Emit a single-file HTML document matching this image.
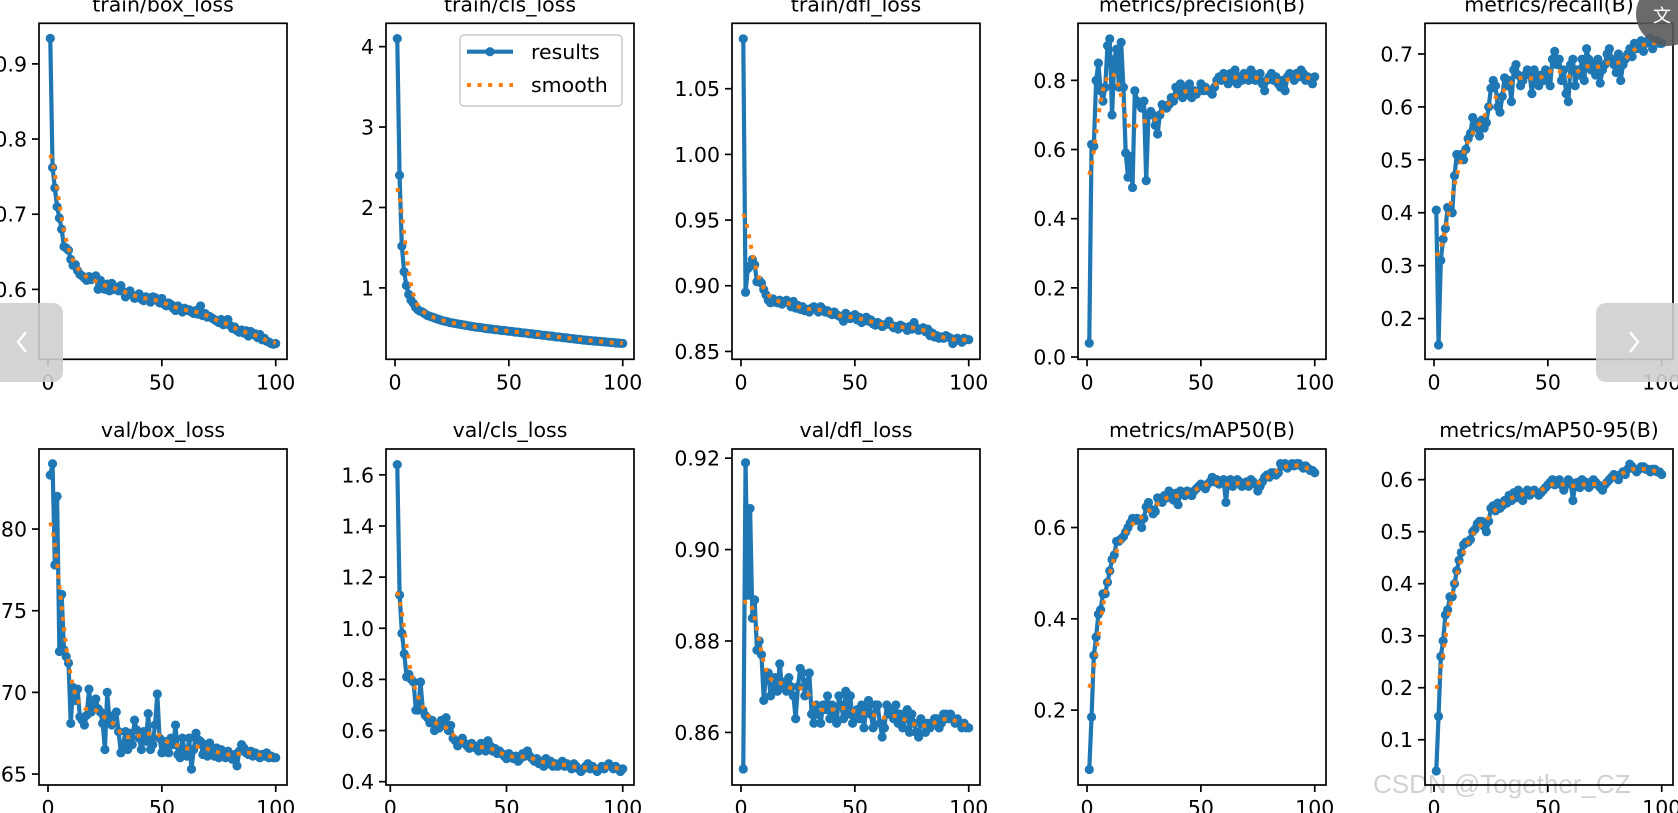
<!DOCTYPE html>
<html><head><meta charset="utf-8">
<style>
html,body{margin:0;padding:0;background:#fff;overflow:hidden;}
svg{display:block;font-family:"DejaVu Sans","Liberation Sans",sans-serif;}
</style></head>
<body>
<svg id="chart" width="1678" height="813" viewBox="0 0 1678 813" xmlns="http://www.w3.org/2000/svg"></svg>
<script>
// ---------- data ----------
const trainBox = [.934,.762,.735,.710,.695,.680,.657,.655,.652,.640,
.632,.633,.625,.620,.618,.615,.612,.617,.613,.615,
.618,.600,.612,.605,.600,.607,.598,.608,.600,.603,
.598,.605,.597,.590,.595,.598,.592,.588,.590,.594,
.587,.585,.590,.588,.583,.590,.589,.585,.582,.588,
.580,.578,.582,.580,.575,.572,.578,.574,.570,.575,
.572,.573,.570,.568,.572,.567,.578,.565,.568,.563,
.564,.562,.560,.558,.556,.560,.553,.554,.560,.552,
.548,.550,.545,.543,.546,.542,.545,.538,.544,.540,
.541,.536,.540,.533,.535,.531,.530,.528,.527,.528];
const trainCls = [4.10,2.40,1.52,1.20,1.03,.92,.85,.81,.76,.73,
.71,.70,.68,.66,.65,.64,.63,.62,.61,.60,
.59,.585,.58,.57,.565,.56,.555,.55,.545,.54,
.535,.53,.525,.52,.515,.51,.51,.505,.50,.495,
.49,.49,.485,.48,.48,.475,.47,.47,.465,.46,
.46,.455,.45,.45,.445,.44,.44,.435,.43,.43,
.425,.42,.42,.415,.41,.41,.405,.40,.40,.395,
.39,.39,.385,.38,.38,.375,.37,.37,.365,.36,
.36,.355,.35,.35,.345,.345,.34,.34,.335,.335,
.33,.33,.325,.325,.32,.32,.315,.315,.31,.31];
const trainDfl = [1.088,.895,.913,.915,.920,.916,.903,.904,.902,.897,
.893,.889,.887,.890,.888,.887,.889,.886,.888,.889,
.887,.884,.888,.883,.885,.882,.884,.881,.882,.880,
.883,.884,.882,.880,.884,.882,.880,.881,.879,.878,
.880,.878,.877,.876,.873,.879,.877,.875,.877,.878,
.874,.876,.872,.875,.876,.873,.874,.871,.870,.872,
.871,.869,.870,.871,.873,.870,.868,.869,.867,.870,
.869,.868,.866,.869,.867,.872,.868,.866,.867,.868,
.865,.867,.862,.864,.861,.862,.860,.861,.860,.862,
.861,.860,.856,.858,.860,.859,.857,.860,.859,.859];
const precision = [.04,.615,.61,.80,.85,.77,.74,.78,.90,.92,
.70,.86,.89,.78,.91,.78,.59,.52,.58,.49,
.77,.74,.73,.72,.74,.51,.70,.71,.70,.67,
.645,.70,.73,.72,.72,.73,.75,.74,.78,.76,
.79,.75,.78,.76,.79,.75,.77,.76,.77,.79,
.77,.78,.77,.77,.76,.78,.80,.81,.80,.82,
.81,.79,.82,.80,.83,.79,.81,.80,.82,.81,
.80,.83,.82,.80,.81,.82,.79,.77,.80,.81,
.82,.80,.81,.79,.78,.80,.77,.81,.82,.81,
.80,.82,.81,.83,.82,.80,.81,.80,.79,.81];
const recall = [.405,.15,.31,.35,.37,.41,.41,.40,.47,.51,
.50,.51,.50,.52,.54,.55,.58,.56,.57,.545,
.575,.56,.57,.60,.635,.65,.64,.60,.59,.62,
.655,.64,.65,.61,.67,.68,.66,.64,.65,.66,
.67,.66,.625,.67,.65,.64,.66,.65,.67,.655,
.64,.69,.705,.68,.69,.65,.67,.625,.61,.68,
.69,.64,.67,.66,.69,.65,.71,.69,.67,.68,
.66,.69,.645,.67,.68,.70,.71,.69,.68,.665,
.70,.65,.68,.69,.70,.71,.695,.72,.71,.72,
.725,.705,.72,.725,.73,.71,.72,.725,.72,.72];
const valBox = [.833,.840,.778,.820,.725,.760,.726,.722,.718,.681,
.703,.695,.702,.685,.683,.680,.686,.702,.688,.693,
.696,.690,.688,.681,.665,.700,.683,.680,.686,.688,
.676,.663,.668,.676,.665,.675,.668,.683,.677,.672,
.665,.676,.670,.687,.665,.668,.680,.699,.672,.663,
.670,.666,.663,.672,.668,.680,.662,.660,.672,.665,
.661,.672,.653,.665,.675,.671,.670,.662,.668,.661,
.669,.664,.661,.666,.660,.665,.663,.660,.664,.662,
.659,.662,.655,.664,.668,.666,.663,.662,.664,.661,
.663,.662,.660,.662,.661,.663,.660,.661,.660,.660];
const valCls = [1.64,1.13,.98,.90,.81,.82,.80,.79,.68,.68,
.79,.68,.66,.65,.63,.64,.60,.62,.61,.64,
.62,.65,.60,.62,.57,.56,.54,.55,.57,.55,
.54,.53,.55,.54,.53,.52,.55,.53,.52,.56,
.54,.52,.53,.51,.52,.51,.50,.49,.51,.50,
.49,.50,.48,.49,.51,.50,.52,.50,.49,.48,
.49,.47,.48,.46,.49,.47,.48,.46,.47,.46,
.47,.48,.46,.47,.46,.45,.47,.46,.45,.44,
.45,.46,.47,.45,.46,.45,.44,.45,.46,.45,
.46,.47,.46,.45,.46,.45,.44,.45];
const valDfl = [.852,.919,.890,.909,.885,.889,.878,.880,.877,.867,
.873,.873,.868,.870,.872,.869,.875,.870,.871,.869,
.872,.870,.868,.863,.870,.874,.873,.868,.871,.873,
.864,.862,.866,.864,.862,.866,.865,.868,.863,.866,
.864,.862,.868,.866,.863,.869,.864,.868,.862,.864,
.865,.863,.866,.861,.865,.867,.864,.861,.866,.866,
.862,.859,.861,.866,.864,.865,.863,.866,.862,.864,
.861,.863,.865,.860,.864,.862,.860,.859,.863,.862,
.860,.862,.861,.862,.863,.863,.861,.862,.864,.864,
.863,.864,.863,.862,.863,.862,.861,.862,.861,.861];
const map50 = [.07,.185,.32,.36,.41,.42,.455,.455,.48,.505,
.53,.54,.57,.57,.575,.58,.59,.60,.61,.62,
.615,.62,.615,.60,.62,.645,.655,.64,.63,.635,
.665,.66,.655,.67,.665,.68,.67,.66,.675,.65,
.68,.675,.67,.68,.675,.67,.68,.685,.69,.695,
.69,.685,.695,.70,.71,.70,.705,.695,.70,.705,
.655,.70,.705,.69,.70,.705,.70,.69,.695,.70,
.69,.705,.70,.695,.68,.69,.70,.71,.715,.71,
.72,.72,.715,.72,.74,.735,.74,.73,.735,.74,
.735,.74,.74,.735,.73,.735,.73,.725,.725,.72];
const map5095 = [.04,.145,.26,.29,.34,.35,.375,.375,.40,.425,
.445,.46,.475,.48,.48,.485,.50,.505,.515,.52,
.52,.51,.50,.52,.545,.55,.54,.555,.545,.55,
.56,.555,.57,.56,.575,.565,.58,.57,.56,.575,
.58,.57,.575,.58,.575,.57,.575,.58,.585,.59,
.595,.60,.59,.595,.60,.59,.58,.59,.60,.595,
.56,.59,.595,.585,.60,.59,.595,.585,.59,.60,
.595,.59,.585,.58,.59,.595,.60,.605,.61,.605,
.60,.61,.615,.61,.62,.63,.625,.62,.615,.62,
.625,.625,.62,.62,.615,.62,.62,.615,.615,.61];
const xTicks = [0, 50, 100];
const titles = ["train/box_loss","train/cls_loss","train/dfl_loss","metrics/precision(B)","metrics/recall(B)",
"val/box_loss","val/cls_loss","val/dfl_loss","metrics/mAP50(B)","metrics/mAP50-95(B)"];
const seriesList = [trainBox,trainCls,trainDfl,precision,recall,valBox,valCls,valDfl,map50,map5095];
const startEpochs = [1,1,1,1,1,1,3,1,1,1];
const yTickSets = [[0.6,0.7,0.8,0.9],[1,2,3,4],[0.85,0.90,0.95,1.00,1.05],[0,0.2,0.4,0.6,0.8],[0.2,0.3,0.4,0.5,0.6,0.7],
[0.65,0.70,0.75,0.80],[0.4,0.6,0.8,1.0,1.2,1.4,1.6],[0.86,0.88,0.90,0.92],[0.2,0.4,0.6],[0.1,0.2,0.3,0.4,0.5,0.6]];
const yDecimals = [1,0,2,1,1,2,1,2,1,1];
const yLims = [[.507,.954],[.112,4.29],[.844,1.0998],[-.0066,.965],[.123,.758],
[.6433,.849],[.387,1.701],[.8485,.922],[.036,.772],[.013,.659]];

// ---------- layout ----------
const NS = "http://www.w3.org/2000/svg";
const svg = document.getElementById('chart');
const colLeft = [39,386,732,1078,1425];
const rowTop = [23.3,449];
const AW = 248, AH = 336;
const BLUE = "#1f77b4", ORANGE = "#ff7f0e";

function mk(tag, attrs, parent){
  const e = document.createElementNS(NS, tag);
  for (const k in attrs) e.setAttribute(k, attrs[k]);
  (parent||svg).appendChild(e);
  return e;
}
function gaussSmooth(y, sigma){
  const r = Math.round(4*sigma), w = [];
  let s = 0;
  for (let i=-r;i<=r;i++){ const v=Math.exp(-0.5*i*i/(sigma*sigma)); w.push(v); s+=v; }
  const n = y.length, out = [];
  for (let i=0;i<n;i++){
    let acc=0;
    for (let k=-r;k<=r;k++){
      let j=i+k;
      while (j<0||j>=n){ if(j<0) j=-j-1; if(j>=n) j=2*n-j-1; }
      acc += w[k+r]*y[j];
    }
    out.push(acc/s);
  }
  return out;
}

for (let p=0;p<10;p++){
  const L = colLeft[p%5], T = rowTop[Math.floor(p/5)];
  const data = seriesList[p], s0 = startEpochs[p];
  const xEnd = s0 + data.length - 1;
  const m = (xEnd - s0)*0.05;
  const x0 = s0 - m, x1 = xEnd + m;
  const [y0,y1] = yLims[p];
  const xs = v => L + (v - x0)/(x1 - x0)*AW;
  const ys = v => T + AH - (v - y0)/(y1 - y0)*AH;

  const g = mk('g', {});
  
  

  const title = mk('text', {x: L+AW/2, y: T-12, 'font-size': 20.5, 'text-anchor':'middle', fill:'#000'}, g);
  title.textContent = titles[p];
  
  

  // clip
  const cid = 'clip'+p;
  const cp = mk('clipPath', {id: cid}, g);
  mk('rect', {x:L, y:T, width:AW, height:AH}, cp);

  // series
  const pts = data.map((v,i)=> xs(s0+i).toFixed(2)+','+ys(v).toFixed(2)).join(' ');
  const line = mk('polyline', {points: pts, fill:'none', stroke:BLUE, 'stroke-width':4.2, 'stroke-linejoin':'round', 'clip-path':`url(#${cid})`}, g);
  
  
  data.forEach((v,i)=>{
    const c = mk('circle', {cx: xs(s0+i), cy: ys(v), r: 4.6, fill: BLUE, 'clip-path':`url(#${cid})`}, g);
    
    
  });
  const sm = gaussSmooth(data, 3);
  const spts = sm.map((v,i)=> xs(s0+i).toFixed(2)+','+ys(v).toFixed(2)).join(' ');
  const sl = mk('polyline', {points: spts, fill:'none', stroke:ORANGE, 'stroke-width':4, 'stroke-dasharray':'4 6.6', 'clip-path':`url(#${cid})`}, g);
  
  

  // frame
  const fr = mk('rect', {x:L, y:T, width:AW, height:AH, fill:'none', stroke:'#000', 'stroke-width':1.7}, g);
  
  

  // x ticks
  xTicks.forEach(t=>{
    const X = xs(t);
    mk('line', {x1:X, x2:X, y1:T+AH, y2:T+AH+7, stroke:'#000', 'stroke-width':1.7}, g);
    const tl = mk('text', {x:X, y:T+AH+30, 'font-size':20.5, 'text-anchor':'middle', fill:'#000'}, g);
    tl.textContent = String(t);
    
    
  });
  // y ticks
  yTickSets[p].forEach(t=>{
    const Y = ys(t);
    mk('line', {x1:L-7, x2:L, y1:Y, y2:Y, stroke:'#000', 'stroke-width':1.7}, g);
    const tl = mk('text', {x:L-12, y:Y+7.5, 'font-size':20.5, 'text-anchor':'end', fill:'#000'}, g);
    tl.textContent = t.toFixed(yDecimals[p]);
    
    
  });
}

// legend (in train/cls_loss)
const lg = mk('g', {});


mk('rect', {x:460, y:35, width:162, height:71, rx:4, fill:'#fff', 'fill-opacity':0.8, stroke:'#d0d0d0', 'stroke-width':1.7}, lg);
const le1 = mk('g', {}, lg);


mk('line', {x1:467, x2:513, y1:51.7, y2:51.7, stroke:BLUE, 'stroke-width':4.2}, le1);
mk('circle', {cx:490, cy:51.7, r:4.6, fill:BLUE}, le1);
const lt1 = mk('text', {x:531, y:59, 'font-size':20.5, fill:'#000'}, le1);
lt1.textContent = 'results';
const le2 = mk('g', {}, lg);


mk('line', {x1:467, x2:513, y1:85, y2:85, stroke:ORANGE, 'stroke-width':4, 'stroke-dasharray':'4 6.6'}, le2);
const lt2 = mk('text', {x:531, y:92, 'font-size':20.5, fill:'#000'}, le2);
lt2.textContent = 'smooth';

// overlays
const prev = mk('g', {});


mk('rect', {x:-12, y:303, width:75, height:79, rx:10, fill:'#cfcfcf', 'fill-opacity':0.9}, prev);
mk('polyline', {points:'26,332 18,342 26,352', fill:'none', stroke:'#fff', 'stroke-width':2.5}, prev);
const next = mk('g', {});


mk('rect', {x:1596, y:303, width:90, height:79, rx:10, fill:'#cfcfcf', 'fill-opacity':0.9}, next);
mk('polyline', {points:'1630,332 1638,342 1630,352', fill:'none', stroke:'#fff', 'stroke-width':2.5}, next);
const tr = mk('g', {});


mk('circle', {cx:1668, cy:14, r:32, fill:'#5a5a5a', 'fill-opacity':0.9}, tr);
const trt = mk('text', {x:1662, y:22, 'font-size':18, 'text-anchor':'middle', fill:'#fff', 'font-family':'"Noto Sans CJK SC", sans-serif'}, tr);
trt.textContent = '文';
const wm = mk('text', {x:1373, y:793, 'font-size':26, fill:'#000', 'fill-opacity':0.18, 'font-family':'"Liberation Sans", sans-serif'});
wm.textContent = 'CSDN @Together_CZ';


</script>
</body></html>
